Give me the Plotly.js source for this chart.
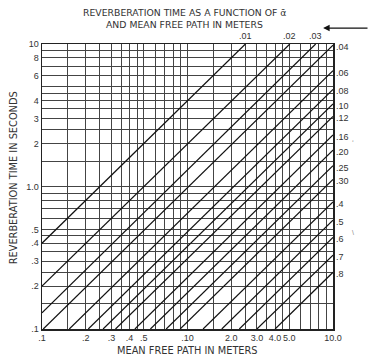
<!DOCTYPE html>
<html>
<head>
<meta charset="utf-8">
<script src="https://cdn.plot.ly/plotly-3.0.1.min.js"></script>
<style>html,body{margin:0;padding:0;background:#fff;}#chart{width:369px;height:356px;}</style>
</head>
<body>
<div id="chart"></div>
<script>
// Absorption coefficient labels for each line
var alphaLabels = ['.01','.02','.03','.04','.06','.08','.10','.12','.16','.20','.25','.30','.4','.5','.6','.7','.8'];
// Line start points (mean free path in m, reverberation time in s)
var startMfp = [0.1, 0.1, 0.1, 0.102, 0.154, 0.208, 0.263, 0.32, 0.435, 0.556, 0.714, 0.89, 1.28, 1.72, 2.27, 3.0, 4.0];
var startT   = [0.4, 0.2, 0.13, 0.1, 0.1, 0.1, 0.1, 0.1, 0.1, 0.1, 0.1, 0.1, 0.1, 0.1, 0.1, 0.1, 0.1];
// Line end points
var endMfp = [2.5, 5.05, 7.6, 10, 10, 10, 10, 10, 10, 10, 10, 10, 10, 10, 10, 10, 10];
var endT   = [10, 10, 10, 9.8, 6.5, 4.8, 3.8, 3.1, 2.3, 1.8, 1.4, 1.12, 0.78, 0.58, 0.44, 0.33, 0.25];

// Grid values and tick labels
var xGrid = [0.1,0.15,0.2,0.25,0.3,0.35,0.4,0.45,0.5,0.6,0.7,0.8,0.9,1,1.5,2,2.5,3,3.5,4,4.5,5,6,7,8,9,10];
var xLabels = {0.1:'.1',0.2:'.2',0.3:'.3',0.4:'.4',0.5:'.5',1:'.10',2:'2.0',3:'3.0',4:'4.0',5:'5.0',10:'10.0'};
var yGrid = [0.1,0.15,0.2,0.25,0.3,0.35,0.4,0.45,0.5,0.6,0.7,0.8,0.9,1,1.5,2,2.5,3,3.5,4,4.5,5,6,7,8,9,10];
var yLabels = {0.1:'.1',0.2:'.2',0.3:'.3',0.4:'.4',0.5:'.5',1:'1.0',2:'2',3:'3',4:'4',6:'6',8:'8',10:'10'};

var titleLine1 = 'REVERBERATION TIME AS A FUNCTION OF ᾱ';
var titleLine2 = 'AND MEAN FREE PATH IN METERS';
var xTitle = 'MEAN FREE PATH IN METERS';
var yTitle = 'REVERBERATION TIME IN SECONDS';

var font = 'Liberation Sans, Arial, sans-serif';
var wideFont = 'DejaVu Sans, sans-serif';
var traces = [];
var annotations = [];
for (var i = 0; i < alphaLabels.length; i++) {
  traces.push({
    x: [startMfp[i], endMfp[i]],
    y: [startT[i], endT[i]],
    mode: 'lines', type: 'scatter', hoverinfo: 'skip', showlegend: false,
    line: {color: '#111', width: 1.2}
  });
  if (endT[i] >= 10) {
    annotations.push({x: Math.log10(endMfp[i]), y: Math.log10(endT[i]), xref: 'x', yref: 'y',
      text: alphaLabels[i], showarrow: false, xanchor: 'center', yanchor: 'bottom', yshift: 1,
      font: {family: font, size: 9, color: '#333'}});
  } else {
    annotations.push({x: Math.log10(endMfp[i]), y: Math.log10(endT[i]), xref: 'x', yref: 'y',
      text: alphaLabels[i], showarrow: false, xanchor: 'left', yanchor: 'middle', xshift: 1, yshift: -2,
      font: {family: font, size: 9, color: '#333'}});
  }
}
// Titles
annotations.push({xref: 'paper', yref: 'paper', x: 0.49, y: 1.11, text: titleLine1, showarrow: false,
  xanchor: 'center', yanchor: 'middle', font: {family: wideFont, size: 9.3, color: '#333'}});
annotations.push({xref: 'paper', yref: 'paper', x: 0.49, y: 1.07, text: titleLine2, showarrow: false,
  xanchor: 'center', yanchor: 'middle', font: {family: wideFont, size: 9.3, color: '#333'}});
annotations.push({xref: 'paper', yref: 'paper', x: 0.5, y: -0.077, text: xTitle, showarrow: false,
  xanchor: 'center', yanchor: 'middle', font: {family: wideFont, size: 9.8, color: '#333'}});
annotations.push({xref: 'paper', yref: 'paper', x: -0.095, y: 0.53, text: yTitle, showarrow: false, textangle: -90,
  xanchor: 'center', yanchor: 'middle', font: {family: wideFont, size: 9.8, color: '#333'}});
// Arrow at top right
annotations.push({xref: 'paper', yref: 'paper', x: 0.966, y: 1.056, ax: 50, ay: 0, text: '', showarrow: true,
  arrowhead: 2, arrowsize: 1, arrowwidth: 1.3, arrowcolor: '#111'});
// Small stray marks at right of the scan
annotations.push({xref: 'paper', yref: 'paper', x: 1.08, y: 0.675, text: 'ʻ', showarrow: false,
  font: {family: font, size: 8, color: '#777'}});
annotations.push({xref: 'paper', yref: 'paper', x: 1.08, y: 0.32, text: '\\', showarrow: false,
  font: {family: font, size: 7, color: '#888'}});

var layout = {
  width: 369, height: 356,
  margin: {l: 42, r: 36, t: 44, b: 27},
  paper_bgcolor: '#fff', plot_bgcolor: '#fff',
  showlegend: false,
  xaxis: {type: 'log', range: [-1, 1], tickmode: 'array', tickvals: xGrid,
    ticktext: xGrid.map(function (v) { return xLabels[v] || ''; }), tickangle: 0,
    showgrid: true, gridcolor: '#444', gridwidth: 1, zeroline: false,
    showline: true, mirror: true, linecolor: '#222', linewidth: 1.5,
    ticks: '', ticklen: 0, tickfont: {family: font, size: 9, color: '#333'}, fixedrange: true},
  yaxis: {type: 'log', range: [-1, 1], tickmode: 'array', tickvals: yGrid,
    ticktext: yGrid.map(function (v) { return yLabels[v] || ''; }), tickangle: 0,
    showgrid: true, gridcolor: '#444', gridwidth: 1, zeroline: false,
    showline: true, mirror: true, linecolor: '#222', linewidth: 1.5,
    ticks: '', ticklen: 0, tickfont: {family: font, size: 9, color: '#333'}, fixedrange: true},
  annotations: annotations
};
Plotly.newPlot('chart', traces, layout, {staticPlot: true, displayModeBar: false});
</script>
</body>
</html>
